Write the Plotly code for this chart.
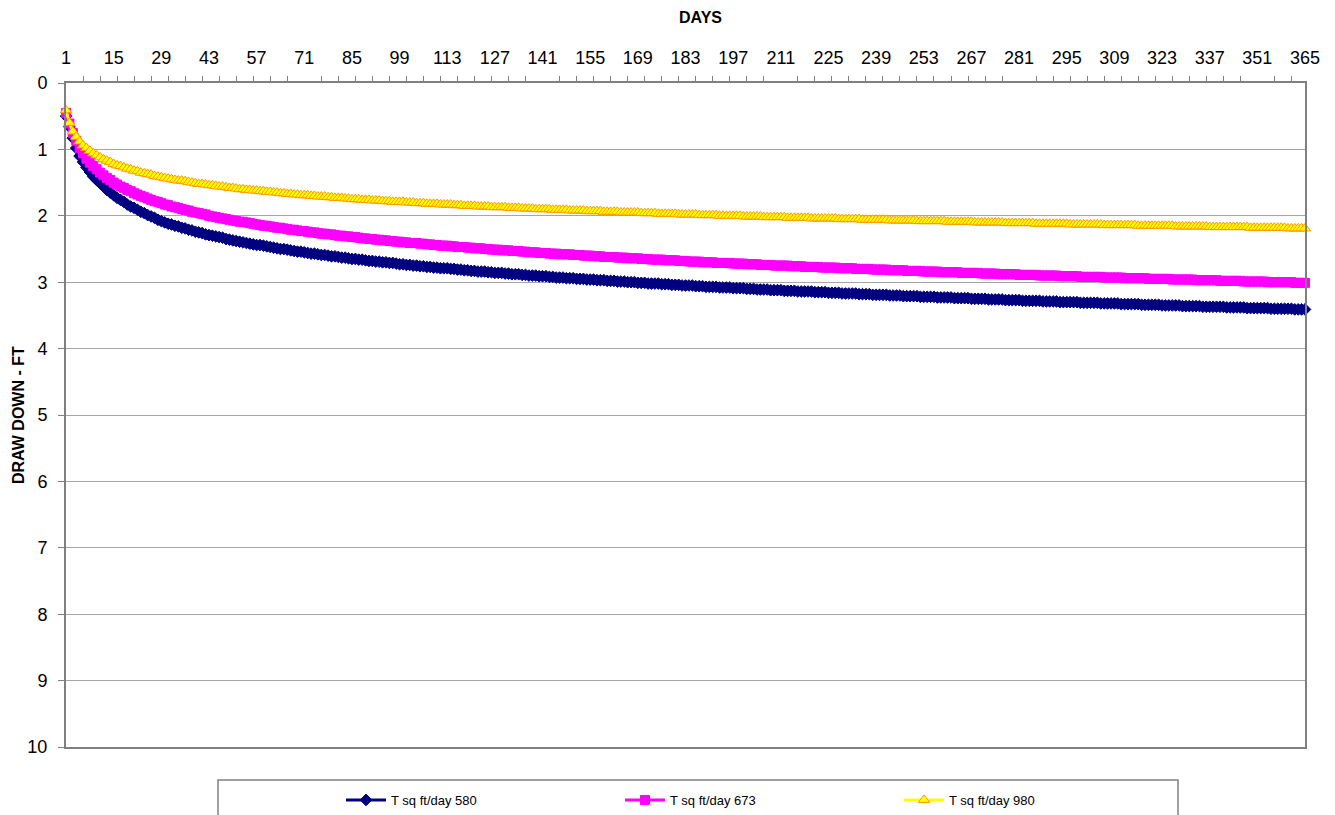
import plotly.graph_objects as go

# Days 1..365 (category axis)
days = list(range(1, 366))

series_names = ["T sq ft/day 580", "T sq ft/day 673", "T sq ft/day 980"]

# Draw down (ft), one value per day (rows of 10 days)
drawdown_580 = [
    0.50, 0.66, 0.83, 0.98, 1.10, 1.19, 1.27, 1.34, 1.41, 1.46,
    1.51, 1.56, 1.61, 1.65, 1.69, 1.73, 1.76, 1.79, 1.83, 1.86,
    1.88, 1.91, 1.94, 1.96, 1.99, 2.01, 2.03, 2.06, 2.08, 2.10,
    2.12, 2.13, 2.15, 2.16, 2.18, 2.19, 2.21, 2.22, 2.24, 2.25,
    2.26, 2.28, 2.29, 2.30, 2.31, 2.32, 2.33, 2.35, 2.36, 2.37,
    2.38, 2.39, 2.40, 2.41, 2.42, 2.43, 2.44, 2.44, 2.45, 2.46,
    2.47, 2.48, 2.49, 2.50, 2.50, 2.51, 2.52, 2.53, 2.54, 2.54,
    2.55, 2.56, 2.57, 2.57, 2.58, 2.59, 2.59, 2.60, 2.61, 2.61,
    2.62, 2.63, 2.63, 2.64, 2.65, 2.65, 2.66, 2.66, 2.67, 2.68,
    2.68, 2.69, 2.69, 2.70, 2.70, 2.71, 2.71, 2.72, 2.73, 2.73,
    2.74, 2.74, 2.75, 2.75, 2.76, 2.76, 2.77, 2.77, 2.78, 2.78,
    2.79, 2.79, 2.79, 2.80, 2.80, 2.81, 2.81, 2.82, 2.82, 2.83,
    2.83, 2.84, 2.84, 2.84, 2.85, 2.85, 2.86, 2.86, 2.86, 2.87,
    2.87, 2.88, 2.88, 2.88, 2.89, 2.89, 2.90, 2.90, 2.90, 2.91,
    2.91, 2.91, 2.92, 2.92, 2.93, 2.93, 2.93, 2.94, 2.94, 2.94,
    2.95, 2.95, 2.95, 2.96, 2.96, 2.96, 2.97, 2.97, 2.97, 2.98,
    2.98, 2.98, 2.99, 2.99, 2.99, 3.00, 3.00, 3.00, 3.01, 3.01,
    3.01, 3.02, 3.02, 3.02, 3.02, 3.03, 3.03, 3.03, 3.04, 3.04,
    3.04, 3.05, 3.05, 3.05, 3.05, 3.06, 3.06, 3.06, 3.07, 3.07,
    3.07, 3.07, 3.08, 3.08, 3.08, 3.08, 3.09, 3.09, 3.09, 3.09,
    3.10, 3.10, 3.10, 3.11, 3.11, 3.11, 3.11, 3.12, 3.12, 3.12,
    3.12, 3.13, 3.13, 3.13, 3.13, 3.14, 3.14, 3.14, 3.14, 3.14,
    3.15, 3.15, 3.15, 3.15, 3.16, 3.16, 3.16, 3.16, 3.17, 3.17,
    3.17, 3.17, 3.17, 3.18, 3.18, 3.18, 3.18, 3.19, 3.19, 3.19,
    3.19, 3.19, 3.20, 3.20, 3.20, 3.20, 3.21, 3.21, 3.21, 3.21,
    3.21, 3.22, 3.22, 3.22, 3.22, 3.22, 3.23, 3.23, 3.23, 3.23,
    3.23, 3.24, 3.24, 3.24, 3.24, 3.24, 3.25, 3.25, 3.25, 3.25,
    3.25, 3.26, 3.26, 3.26, 3.26, 3.26, 3.27, 3.27, 3.27, 3.27,
    3.27, 3.28, 3.28, 3.28, 3.28, 3.28, 3.28, 3.29, 3.29, 3.29,
    3.29, 3.29, 3.30, 3.30, 3.30, 3.30, 3.30, 3.30, 3.31, 3.31,
    3.31, 3.31, 3.31, 3.31, 3.32, 3.32, 3.32, 3.32, 3.32, 3.32,
    3.33, 3.33, 3.33, 3.33, 3.33, 3.33, 3.34, 3.34, 3.34, 3.34,
    3.34, 3.34, 3.35, 3.35, 3.35, 3.35, 3.35, 3.35, 3.36, 3.36,
    3.36, 3.36, 3.36, 3.36, 3.37, 3.37, 3.37, 3.37, 3.37, 3.37,
    3.37, 3.38, 3.38, 3.38, 3.38, 3.38, 3.38, 3.39, 3.39, 3.39,
    3.39, 3.39, 3.39, 3.39, 3.40, 3.40, 3.40, 3.40, 3.40, 3.40,
    3.40, 3.41, 3.41, 3.41, 3.41,
]

drawdown_673 = [
    0.45, 0.61, 0.75, 0.87, 0.98, 1.06, 1.14, 1.20, 1.25, 1.30,
    1.35, 1.39, 1.43, 1.46, 1.50, 1.53, 1.56, 1.58, 1.61, 1.63,
    1.66, 1.68, 1.70, 1.72, 1.74, 1.76, 1.78, 1.79, 1.81, 1.83,
    1.84, 1.86, 1.87, 1.88, 1.90, 1.91, 1.92, 1.94, 1.95, 1.96,
    1.97, 1.98, 2.00, 2.01, 2.02, 2.03, 2.04, 2.05, 2.06, 2.07,
    2.08, 2.09, 2.09, 2.10, 2.11, 2.12, 2.13, 2.14, 2.15, 2.15,
    2.16, 2.17, 2.18, 2.18, 2.19, 2.20, 2.21, 2.21, 2.22, 2.23,
    2.23, 2.24, 2.25, 2.25, 2.26, 2.27, 2.27, 2.28, 2.28, 2.29,
    2.30, 2.30, 2.31, 2.31, 2.32, 2.32, 2.33, 2.34, 2.34, 2.35,
    2.35, 2.36, 2.36, 2.37, 2.37, 2.38, 2.38, 2.39, 2.39, 2.40,
    2.40, 2.41, 2.41, 2.41, 2.42, 2.42, 2.43, 2.43, 2.44, 2.44,
    2.45, 2.45, 2.45, 2.46, 2.46, 2.47, 2.47, 2.47, 2.48, 2.48,
    2.49, 2.49, 2.49, 2.50, 2.50, 2.51, 2.51, 2.51, 2.52, 2.52,
    2.52, 2.53, 2.53, 2.53, 2.54, 2.54, 2.55, 2.55, 2.55, 2.56,
    2.56, 2.56, 2.57, 2.57, 2.57, 2.58, 2.58, 2.58, 2.58, 2.59,
    2.59, 2.59, 2.60, 2.60, 2.60, 2.61, 2.61, 2.61, 2.62, 2.62,
    2.62, 2.62, 2.63, 2.63, 2.63, 2.64, 2.64, 2.64, 2.64, 2.65,
    2.65, 2.65, 2.66, 2.66, 2.66, 2.66, 2.67, 2.67, 2.67, 2.67,
    2.68, 2.68, 2.68, 2.69, 2.69, 2.69, 2.69, 2.70, 2.70, 2.70,
    2.70, 2.71, 2.71, 2.71, 2.71, 2.71, 2.72, 2.72, 2.72, 2.72,
    2.73, 2.73, 2.73, 2.73, 2.74, 2.74, 2.74, 2.74, 2.75, 2.75,
    2.75, 2.75, 2.75, 2.76, 2.76, 2.76, 2.76, 2.77, 2.77, 2.77,
    2.77, 2.77, 2.78, 2.78, 2.78, 2.78, 2.78, 2.79, 2.79, 2.79,
    2.79, 2.79, 2.80, 2.80, 2.80, 2.80, 2.80, 2.81, 2.81, 2.81,
    2.81, 2.81, 2.82, 2.82, 2.82, 2.82, 2.82, 2.83, 2.83, 2.83,
    2.83, 2.83, 2.84, 2.84, 2.84, 2.84, 2.84, 2.85, 2.85, 2.85,
    2.85, 2.85, 2.85, 2.86, 2.86, 2.86, 2.86, 2.86, 2.86, 2.87,
    2.87, 2.87, 2.87, 2.87, 2.88, 2.88, 2.88, 2.88, 2.88, 2.88,
    2.89, 2.89, 2.89, 2.89, 2.89, 2.89, 2.90, 2.90, 2.90, 2.90,
    2.90, 2.90, 2.91, 2.91, 2.91, 2.91, 2.91, 2.91, 2.92, 2.92,
    2.92, 2.92, 2.92, 2.92, 2.92, 2.93, 2.93, 2.93, 2.93, 2.93,
    2.93, 2.94, 2.94, 2.94, 2.94, 2.94, 2.94, 2.94, 2.95, 2.95,
    2.95, 2.95, 2.95, 2.95, 2.95, 2.96, 2.96, 2.96, 2.96, 2.96,
    2.96, 2.96, 2.97, 2.97, 2.97, 2.97, 2.97, 2.97, 2.97, 2.98,
    2.98, 2.98, 2.98, 2.98, 2.98, 2.98, 2.99, 2.99, 2.99, 2.99,
    2.99, 2.99, 2.99, 3.00, 3.00, 3.00, 3.00, 3.00, 3.00, 3.00,
    3.00, 3.01, 3.01, 3.01, 3.01,
]

drawdown_980 = [
    0.41, 0.60, 0.73, 0.81, 0.88, 0.94, 0.98, 1.02, 1.06, 1.09,
    1.12, 1.15, 1.17, 1.19, 1.22, 1.24, 1.25, 1.27, 1.29, 1.30,
    1.32, 1.33, 1.35, 1.36, 1.37, 1.38, 1.40, 1.41, 1.42, 1.43,
    1.44, 1.45, 1.46, 1.47, 1.47, 1.48, 1.49, 1.50, 1.51, 1.52,
    1.52, 1.53, 1.54, 1.54, 1.55, 1.56, 1.56, 1.57, 1.58, 1.58,
    1.59, 1.60, 1.60, 1.61, 1.61, 1.62, 1.62, 1.63, 1.63, 1.64,
    1.64, 1.65, 1.65, 1.66, 1.66, 1.67, 1.67, 1.68, 1.68, 1.69,
    1.69, 1.69, 1.70, 1.70, 1.71, 1.71, 1.71, 1.72, 1.72, 1.73,
    1.73, 1.73, 1.74, 1.74, 1.75, 1.75, 1.75, 1.76, 1.76, 1.76,
    1.77, 1.77, 1.77, 1.78, 1.78, 1.78, 1.79, 1.79, 1.79, 1.79,
    1.80, 1.80, 1.80, 1.81, 1.81, 1.81, 1.82, 1.82, 1.82, 1.82,
    1.83, 1.83, 1.83, 1.83, 1.84, 1.84, 1.84, 1.85, 1.85, 1.85,
    1.85, 1.86, 1.86, 1.86, 1.86, 1.87, 1.87, 1.87, 1.87, 1.87,
    1.88, 1.88, 1.88, 1.88, 1.89, 1.89, 1.89, 1.89, 1.90, 1.90,
    1.90, 1.90, 1.90, 1.91, 1.91, 1.91, 1.91, 1.91, 1.92, 1.92,
    1.92, 1.92, 1.92, 1.93, 1.93, 1.93, 1.93, 1.93, 1.94, 1.94,
    1.94, 1.94, 1.94, 1.95, 1.95, 1.95, 1.95, 1.95, 1.95, 1.96,
    1.96, 1.96, 1.96, 1.96, 1.97, 1.97, 1.97, 1.97, 1.97, 1.97,
    1.98, 1.98, 1.98, 1.98, 1.98, 1.98, 1.99, 1.99, 1.99, 1.99,
    1.99, 1.99, 2.00, 2.00, 2.00, 2.00, 2.00, 2.00, 2.00, 2.01,
    2.01, 2.01, 2.01, 2.01, 2.01, 2.02, 2.02, 2.02, 2.02, 2.02,
    2.02, 2.02, 2.03, 2.03, 2.03, 2.03, 2.03, 2.03, 2.03, 2.04,
    2.04, 2.04, 2.04, 2.04, 2.04, 2.04, 2.04, 2.05, 2.05, 2.05,
    2.05, 2.05, 2.05, 2.05, 2.06, 2.06, 2.06, 2.06, 2.06, 2.06,
    2.06, 2.06, 2.07, 2.07, 2.07, 2.07, 2.07, 2.07, 2.07, 2.07,
    2.08, 2.08, 2.08, 2.08, 2.08, 2.08, 2.08, 2.08, 2.08, 2.09,
    2.09, 2.09, 2.09, 2.09, 2.09, 2.09, 2.09, 2.10, 2.10, 2.10,
    2.10, 2.10, 2.10, 2.10, 2.10, 2.10, 2.11, 2.11, 2.11, 2.11,
    2.11, 2.11, 2.11, 2.11, 2.11, 2.12, 2.12, 2.12, 2.12, 2.12,
    2.12, 2.12, 2.12, 2.12, 2.12, 2.13, 2.13, 2.13, 2.13, 2.13,
    2.13, 2.13, 2.13, 2.13, 2.13, 2.14, 2.14, 2.14, 2.14, 2.14,
    2.14, 2.14, 2.14, 2.14, 2.14, 2.15, 2.15, 2.15, 2.15, 2.15,
    2.15, 2.15, 2.15, 2.15, 2.15, 2.15, 2.16, 2.16, 2.16, 2.16,
    2.16, 2.16, 2.16, 2.16, 2.16, 2.16, 2.17, 2.17, 2.17, 2.17,
    2.17, 2.17, 2.17, 2.17, 2.17, 2.17, 2.17, 2.17, 2.18, 2.18,
    2.18, 2.18, 2.18, 2.18, 2.18, 2.18, 2.18, 2.18, 2.18, 2.19,
    2.19, 2.19, 2.19, 2.19, 2.19,
]

assert len(drawdown_580) == 365, len(drawdown_580)
assert len(drawdown_673) == 365, len(drawdown_673)
assert len(drawdown_980) == 365, len(drawdown_980)

FONT = "Liberation Sans, Arial, sans-serif"

# The page body adds an 8 px offset; positions below are in page pixels.
OFF = 8
L, R, T, B = 66, 1305, 83, 747          # plot area in page pixels
PW, PH = R - L, B - T


def px(xp):
    return (xp - L) / PW


def py(yp):
    return (B - yp) / PH


fig = go.Figure()

fig.add_trace(go.Scatter(
    x=days, y=drawdown_580, name=series_names[0], mode="lines+markers",
    line=dict(color="#000080", width=3),
    marker=dict(symbol="diamond", size=9, color="#000080",
                line=dict(color="#000080", width=1)),
    cliponaxis=False,
))
fig.add_trace(go.Scatter(
    x=days, y=drawdown_673, name=series_names[1], mode="lines+markers",
    line=dict(color="#FF00FF", width=3),
    marker=dict(symbol="square", size=9, color="#FF00FF",
                line=dict(color="#FF00FF", width=1)),
    cliponaxis=False,
))
fig.add_trace(go.Scatter(
    x=days, y=drawdown_980, name=series_names[2], mode="lines+markers",
    line=dict(color="#FFFF00", width=3),
    marker=dict(symbol="triangle-up", size=10, color="#FFFF00",
                line=dict(color="#FF9900", width=1)),
    cliponaxis=False,
))

# legend frame
fig.add_shape(type="rect", xref="paper", yref="paper",
              x0=px(218), x1=px(1178), y0=py(845), y1=py(780),
              line=dict(color="#808080", width=1.5), fillcolor="rgba(0,0,0,0)",
              layer="below")

# axis titles
fig.add_annotation(text="<b>DAYS</b>", xref="paper", yref="paper",
                   x=px(700), y=py(18), showarrow=False,
                   xanchor="center", yanchor="middle",
                   font=dict(family=FONT, size=16, color="black"))
fig.add_annotation(text="<b>DRAW DOWN - FT</b>", xref="paper", yref="paper",
                   x=px(18), y=py(415), showarrow=False,
                   xanchor="center", yanchor="middle", textangle=-90,
                   font=dict(family=FONT, size=16, color="black"))

fig.update_layout(
    width=1335, height=815,
    margin=dict(l=L - OFF, r=1335 - R + OFF, t=T - OFF, b=815 - B + OFF,
                autoexpand=False),
    paper_bgcolor="white", plot_bgcolor="white",
    font=dict(family=FONT, size=17, color="black"),
    showlegend=True,
    legend=dict(
        orientation="h", x=px(341), xanchor="left",
        y=py(800), yanchor="middle",
        entrywidth=224, entrywidthmode="pixels",
        font=dict(family=FONT, size=13, color="black"),
        bgcolor="rgba(0,0,0,0)", borderwidth=0,
        itemwidth=40,
    ),
    xaxis=dict(
        side="top", range=[1, 365],
        tickmode="linear", tick0=1, dtick=14,
        ticks="outside", ticklen=10, tickcolor="rgba(0,0,0,0)",
        showgrid=False, zeroline=False,
        showline=True, linecolor="#808080", linewidth=2, mirror=True,
        tickfont=dict(family=FONT, size=18, color="black"),
        minor=dict(tickmode="linear", tick0=1, dtick=5, ticks="outside",
                   ticklen=5, tickcolor="#808080", showgrid=False),
        automargin=False,
    ),
    yaxis=dict(
        range=[10, 0], tickmode="linear", tick0=0, dtick=1,
        ticks="outside", ticklen=6, tickcolor="#808080",
        ticklabelstandoff=7,
        showgrid=True, gridcolor="#a6a6a6", gridwidth=1, zeroline=False,
        showline=True, linecolor="#808080", linewidth=2, mirror=True,
        tickfont=dict(family=FONT, size=18, color="black"),
        automargin=False,
    ),
)

fig.write_html("out.html")
